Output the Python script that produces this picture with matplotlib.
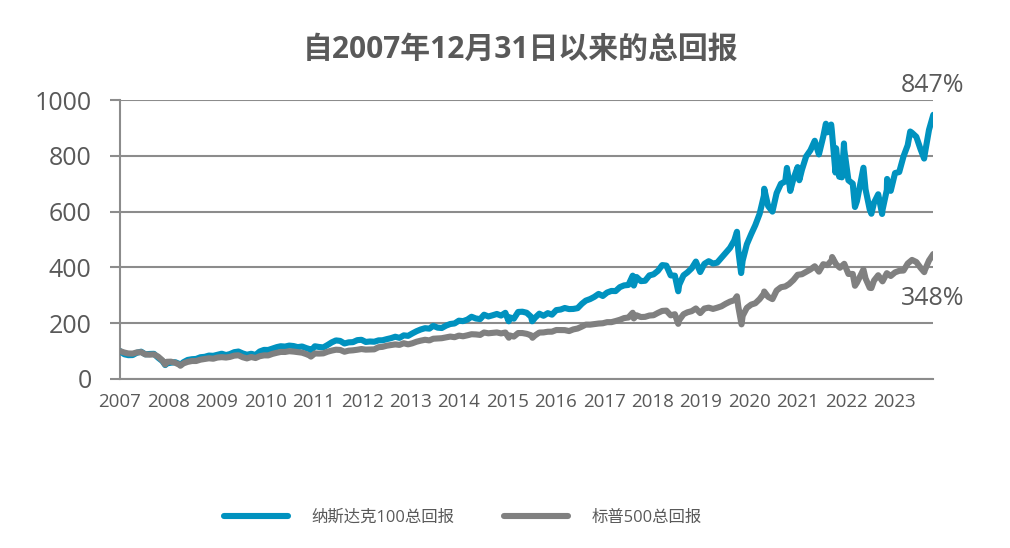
"""Total return since 31 Dec 2007: Nasdaq-100 TR vs S&P 500 TR (rebased to 100)."""
import numpy as np
import pandas as pd
import matplotlib
matplotlib.use("Agg")
import matplotlib.pyplot as plt

plt.rcParams["font.family"] = ["Open Sans", "Noto Sans CJK SC", "DejaVu Sans"]

TITLE = "自2007年12月31日以来的总回报"
NDX_LABEL = "纳斯达克100总回报"
SPX_LABEL = "标普500总回报"
NDX_END_LABEL = "847%"
SPX_END_LABEL = "348%"

# month-end values, Dec 2007 .. Dec 2023 (193 points)
month_ends = pd.date_range("2007-12-31", "2023-12-31", freq="ME")

ndx_monthly = [
    100.0,
    88.7, 85.4, 85.8, 94.0, 97.9, 88.5, 89.7, 90.2, 76.3, 64.1, 55.7, 58.4,
    60.2, 54.2, 60.2, 68.2, 70.9, 71.9, 78.0, 79.5, 83.9, 83.0, 86.9, 90.6,
    85.7, 89.4, 96.1, 98.4, 91.6, 86.9, 90.4, 86.0, 98.6, 104.3, 104.0, 109.1,
    114.3, 117.4, 116.2, 119.7, 118.1, 114.2, 116.5, 110.7, 106.0, 117.3, 114.8, 113.2,
    122.1, 131.2, 138.3, 136.5, 127.3, 131.3, 132.1, 139.2, 140.5, 132.8, 134.4, 133.6,
    138.5, 138.8, 142.9, 146.4, 151.5, 147.5, 156.4, 154.6, 163.2, 171.3, 177.5, 182.1,
    180.5, 190.6, 184.1, 182.8, 191.3, 197.1, 199.1, 209.0, 207.4, 212.9, 223.1, 216.9,
    214.7, 230.4, 224.1, 228.3, 233.1, 227.3, 237.2, 221.0, 216.2, 240.3, 241.2, 237.5,
    223.4, 219.3, 234.1, 226.6, 236.1, 230.6, 246.9, 249.0, 254.5, 250.6, 251.1, 253.9,
    269.7, 280.9, 286.5, 294.3, 305.0, 297.6, 309.9, 315.6, 315.1, 329.3, 335.5, 337.1,
    370.4, 365.4, 350.8, 352.1, 371.3, 375.2, 387.6, 408.3, 406.5, 371.3, 370.4, 337.4,
    371.6, 382.1, 396.9, 421.0, 383.5, 412.8, 422.3, 413.8, 417.0, 434.9, 452.1, 469.8,
    496.9, 459.5, 424.2, 482.7, 518.9, 551.5, 592.1, 657.6, 620.0, 600.1, 666.2, 699.8,
    708.3, 707.4, 717.4, 759.5, 750.0, 797.6, 819.8, 853.9, 805.0, 868.6, 884.2, 894.3,
    827.1, 788.7, 822.1, 712.2, 700.4, 637.3, 717.3, 679.9, 607.8, 631.9, 662.1, 606.1,
    677.7, 674.4, 738.2, 741.8, 798.2, 838.0, 882.4, 868.1, 824.0, 807.0, 893.1, 947.0,
]

spx_monthly = [
    100.0,
    94.8, 91.5, 91.0, 95.3, 96.3, 88.1, 87.2, 88.2, 80.2, 66.6, 61.6, 62.1,
    58.0, 51.6, 56.0, 61.3, 64.5, 64.5, 69.3, 71.6, 74.2, 72.7, 76.9, 78.3,
    76.9, 79.1, 83.8, 85.0, 78.0, 73.8, 78.9, 75.2, 81.7, 84.7, 84.6, 90.1,
    94.0, 97.0, 96.9, 99.6, 98.3, 96.5, 94.4, 89.1, 82.7, 91.6, 91.1, 91.9,
    97.8, 101.8, 105.0, 104.2, 97.7, 101.6, 102.8, 104.9, 107.4, 105.3, 105.6, 106.3,
    114.0, 115.2, 119.4, 121.5, 124.0, 122.2, 128.2, 124.2, 127.9, 133.6, 137.4, 140.6,
    138.3, 144.3, 145.3, 146.2, 149.3, 152.1, 149.8, 155.5, 153.1, 156.6, 160.5, 159.8,
    158.0, 166.7, 163.8, 165.2, 166.9, 163.4, 166.6, 156.2, 152.0, 164.7, 164.7, 161.9,
    156.8, 156.1, 166.4, 166.9, 169.4, 169.6, 175.6, 175.4, 175.2, 171.8, 177.7, 180.9,
    187.9, 194.9, 194.8, 196.6, 198.8, 199.8, 203.7, 203.8, 207.7, 212.3, 218.3, 220.4,
    237.5, 228.3, 222.1, 222.7, 227.5, 228.6, 236.9, 244.0, 245.1, 228.1, 232.2, 210.9,
    232.1, 239.0, 243.2, 252.8, 236.2, 252.5, 255.8, 251.2, 255.5, 260.7, 269.6, 277.3,
    282.4, 258.7, 226.3, 255.0, 266.6, 271.5, 286.4, 306.5, 294.5, 286.3, 317.1, 328.9,
    331.8, 340.5, 354.9, 373.5, 375.6, 383.9, 392.7, 404.1, 384.8, 411.4, 408.0, 425.8,
    411.6, 398.7, 412.9, 376.6, 376.6, 345.0, 376.5, 360.5, 326.8, 352.9, 371.9, 350.0,
    379.2, 369.3, 382.2, 387.8, 388.8, 413.9, 426.8, 419.3, 398.8, 390.1, 424.8, 448.0,
]

# intra-month highs / lows visible as spikes in the chart
ndx_extra_dates = [
    "2008-11-20", "2009-03-09", "2011-10-03", "2015-08-24", "2016-02-09",
    "2018-02-08", "2018-12-24", "2020-02-19", "2020-03-20", "2020-09-02",
    "2021-02-12", "2021-03-08", "2021-05-12", "2021-11-19", "2021-12-27",
    "2022-01-27", "2022-02-23", "2022-03-14", "2022-03-29", "2022-06-16",
    "2022-08-16", "2022-10-12", "2022-12-28", "2023-02-02", "2023-07-18",
    "2023-10-26",
]
ndx_extra_vals = [
    49.9, 50.8, 101.3, 206.8, 206.8,
    334.9, 314.4, 527.7, 379.8, 682.0,
    756.6, 674.0, 712.5, 915.0, 912.0,
    740.0, 725.0, 722.7, 844.2, 616.5,
    757.2, 592.3, 591.6, 717.0, 887.1,
    790.1,
]

spx_extra_dates = [
    "2008-11-20", "2009-03-09", "2011-10-03", "2015-08-25", "2016-02-11",
    "2018-02-08", "2018-12-24", "2020-02-19", "2020-03-23", "2020-09-02",
    "2022-01-03", "2022-06-16", "2022-08-16", "2022-10-12", "2023-10-27",
]
spx_extra_vals = [
    51.8, 47.5, 80.3, 147.9, 147.8,
    217.1, 197.7, 296.5, 195.9, 313.5,
    437.2, 334.2, 392.4, 326.0, 383.0,
]

# axis labels are placed every 240 trading days from the start (Excel category axis)
year_labels = ["2007", "2008", "2009", "2010", "2011", "2012", "2013", "2014", "2015",
               "2016", "2017", "2018", "2019", "2020", "2021", "2022", "2023"]

BLUE = "#0092BF"
GREY = "#808080"
TEXT = "#595959"
GRID = "#8C8C8C"


def build(monthly, extra_dates, extra_vals):
    s = pd.concat([pd.Series(monthly, index=month_ends),
                   pd.Series(extra_vals, index=pd.to_datetime(extra_dates))])
    return s.sort_index()


ndx = build(ndx_monthly, ndx_extra_dates, ndx_extra_vals)
spx = build(spx_monthly, spx_extra_dates, spx_extra_vals)

fig = plt.figure(figsize=(10.1, 5.48), dpi=100)
ax = fig.add_axes([0.1188, 0.3084, 0.805, 0.5091])

kw = dict(lw=4.4, solid_joinstyle="round", solid_capstyle="round")
ax.plot(ndx.index, ndx.values, color=BLUE, label=NDX_LABEL, zorder=3, **kw)
ax.plot(spx.index, spx.values, color=GREY, label=SPX_LABEL, zorder=4, **kw)

start = pd.Timestamp("2007-12-31")
ticks = start + pd.to_timedelta(np.arange(len(year_labels)) * 347.9, unit="D")
ax.set_xticks(ticks)
ax.set_xticklabels(year_labels)
ax.set_xlim(start, pd.Timestamp("2023-12-29"))
ax.set_ylim(0, 1000)
ax.set_yticks(np.arange(0, 1001, 200))

ax.grid(axis="y", color=GRID, lw=1.5, zorder=0)
ax.set_axisbelow(True)
for side in ("top", "right"):
    ax.spines[side].set_visible(False)
for side in ("left", "bottom"):
    ax.spines[side].set_color(GRID)
    ax.spines[side].set_linewidth(1.5)
ax.tick_params(axis="y", length=7.5, width=1.5, color=GRID, pad=13,
               labelsize=18, labelcolor=TEXT)
ax.tick_params(axis="x", length=0, pad=10, labelsize=13.5, labelcolor=TEXT)

ax.annotate(NDX_END_LABEL, (ndx.index[-1], ndx.values[-1]), xytext=(31, 29),
            textcoords="offset pixels", ha="right", va="center",
            fontsize=18, color=TEXT, annotation_clip=False)
ax.annotate(SPX_END_LABEL, (spx.index[-1], spx.values[-1]), xytext=(31, -44),
            textcoords="offset pixels", ha="right", va="center",
            fontsize=18, color=TEXT, annotation_clip=False)

fig.text(521 / 1010, 1 - 50 / 548, TITLE, ha="center", va="center",
         fontsize=21.5, fontweight="bold", color=TEXT)

leg = fig.legend(loc="center", bbox_to_anchor=(463 / 1010, 1 - 518 / 548), ncol=2,
                 frameon=False, fontsize=11.8, handlelength=3.9, handletextpad=1.45,
                 columnspacing=3.0)
for txt in leg.get_texts():
    txt.set_color(TEXT)

fig.savefig("out.png", dpi=100)
